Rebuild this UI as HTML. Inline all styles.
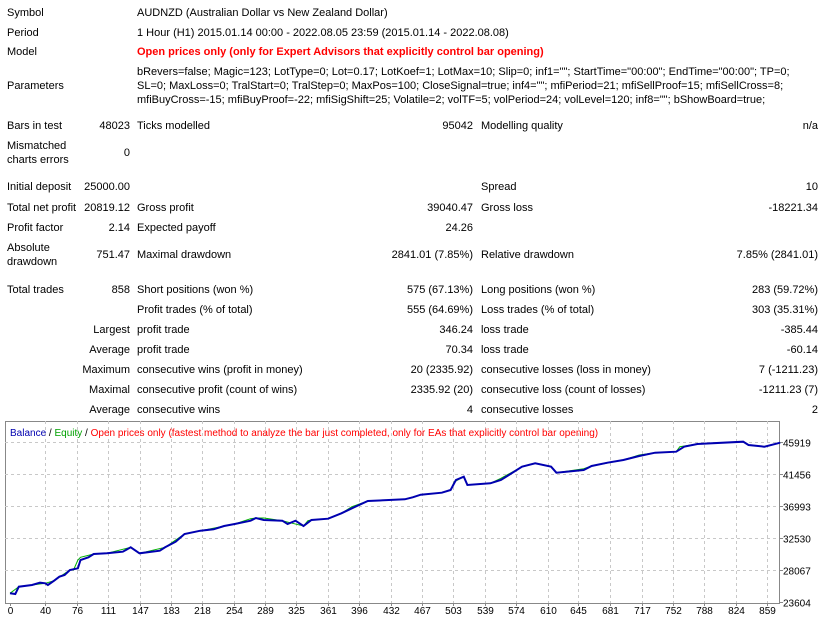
<!DOCTYPE html>
<html><head><meta charset="utf-8">
<style>
body{margin:0;background:#fff;width:834px;height:618px;position:relative;overflow:hidden;font-family:"Liberation Sans","DejaVu Sans",sans-serif;font-size:11px;color:#000}
.t{position:absolute;line-height:14px;white-space:nowrap}
.r{text-align:right}
.red{color:#f00;font-weight:bold;font-size:11px}
#chart{position:absolute;left:0;top:0}
</style></head><body>
<div class="t" style="left:7px;top:6px">Symbol</div>
<div class="t" style="left:137px;top:6px">AUDNZD (Australian Dollar vs New Zealand Dollar)</div>
<div class="t" style="left:7px;top:26px">Period</div>
<div class="t" style="left:137px;top:26px">1 Hour (H1) 2015.01.14 00:00 - 2022.08.05 23:59 (2015.01.14 - 2022.08.08)</div>
<div class="t" style="left:7px;top:45px">Model</div>
<div class="t red" style="left:137px;top:45px">Open prices only (only for Expert Advisors that explicitly control bar opening)</div>
<div class="t" style="left:7px;top:79px">Parameters</div>
<div class="t" style="left:137px;top:65px">bRevers=false; Magic=123; LotType=0; Lot=0.17; LotKoef=1; LotMax=10; Slip=0; inf1=""; StartTime="00:00"; EndTime="00:00"; TP=0;</div>
<div class="t" style="left:137px;top:79px">SL=0; MaxLoss=0; TralStart=0; TralStep=0; MaxPos=100; CloseSignal=true; inf4=""; mfiPeriod=21; mfiSellProof=15; mfiSellCross=8;</div>
<div class="t" style="left:137px;top:93px">mfiBuyCross=-15; mfiBuyProof=-22; mfiSigShift=25; Volatile=2; volTF=5; volPeriod=24; volLevel=120; inf8=""; bShowBoard=true;</div>

<div class="t" style="left:7px;top:119px">Bars in test</div>
<div class="t r" style="right:704px;top:119px">48023</div>
<div class="t" style="left:137px;top:119px">Ticks modelled</div>
<div class="t r" style="right:361px;top:119px">95042</div>
<div class="t" style="left:481px;top:119px">Modelling quality</div>
<div class="t r" style="right:16px;top:119px">n/a</div>

<div class="t" style="left:7px;top:139px">Mismatched<br>charts errors</div>
<div class="t r" style="right:704px;top:146px">0</div>

<div class="t" style="left:7px;top:180px">Initial deposit</div>
<div class="t r" style="right:704px;top:180px">25000.00</div>
<div class="t" style="left:481px;top:180px">Spread</div>
<div class="t r" style="right:16px;top:180px">10</div>

<div class="t" style="left:7px;top:201px">Total net profit</div>
<div class="t r" style="right:704px;top:201px">20819.12</div>
<div class="t" style="left:137px;top:201px">Gross profit</div>
<div class="t r" style="right:361px;top:201px">39040.47</div>
<div class="t" style="left:481px;top:201px">Gross loss</div>
<div class="t r" style="right:16px;top:201px">-18221.34</div>

<div class="t" style="left:7px;top:221px">Profit factor</div>
<div class="t r" style="right:704px;top:221px">2.14</div>
<div class="t" style="left:137px;top:221px">Expected payoff</div>
<div class="t r" style="right:361px;top:221px">24.26</div>

<div class="t" style="left:7px;top:241px">Absolute<br>drawdown</div>
<div class="t r" style="right:704px;top:248px">751.47</div>
<div class="t" style="left:137px;top:248px">Maximal drawdown</div>
<div class="t r" style="right:361px;top:248px">2841.01 (7.85%)</div>
<div class="t" style="left:481px;top:248px">Relative drawdown</div>
<div class="t r" style="right:16px;top:248px">7.85% (2841.01)</div>

<div class="t" style="left:7px;top:283px">Total trades</div>
<div class="t r" style="right:704px;top:283px">858</div>
<div class="t" style="left:137px;top:283px">Short positions (won %)</div>
<div class="t r" style="right:361px;top:283px">575 (67.13%)</div>
<div class="t" style="left:481px;top:283px">Long positions (won %)</div>
<div class="t r" style="right:16px;top:283px">283 (59.72%)</div>

<div class="t" style="left:137px;top:303px">Profit trades (% of total)</div>
<div class="t r" style="right:361px;top:303px">555 (64.69%)</div>
<div class="t" style="left:481px;top:303px">Loss trades (% of total)</div>
<div class="t r" style="right:16px;top:303px">303 (35.31%)</div>

<div class="t r" style="right:704px;top:323px">Largest</div>
<div class="t" style="left:137px;top:323px">profit trade</div>
<div class="t r" style="right:361px;top:323px">346.24</div>
<div class="t" style="left:481px;top:323px">loss trade</div>
<div class="t r" style="right:16px;top:323px">-385.44</div>

<div class="t r" style="right:704px;top:343px">Average</div>
<div class="t" style="left:137px;top:343px">profit trade</div>
<div class="t r" style="right:361px;top:343px">70.34</div>
<div class="t" style="left:481px;top:343px">loss trade</div>
<div class="t r" style="right:16px;top:343px">-60.14</div>

<div class="t r" style="right:704px;top:363px">Maximum</div>
<div class="t" style="left:137px;top:363px">consecutive wins (profit in money)</div>
<div class="t r" style="right:361px;top:363px">20 (2335.92)</div>
<div class="t" style="left:481px;top:363px">consecutive losses (loss in money)</div>
<div class="t r" style="right:16px;top:363px">7 (-1211.23)</div>

<div class="t r" style="right:704px;top:383px">Maximal</div>
<div class="t" style="left:137px;top:383px">consecutive profit (count of wins)</div>
<div class="t r" style="right:361px;top:383px">2335.92 (20)</div>
<div class="t" style="left:481px;top:383px">consecutive loss (count of losses)</div>
<div class="t r" style="right:16px;top:383px">-1211.23 (7)</div>

<div class="t r" style="right:704px;top:403px">Average</div>
<div class="t" style="left:137px;top:403px">consecutive wins</div>
<div class="t r" style="right:361px;top:403px">4</div>
<div class="t" style="left:481px;top:403px">consecutive losses</div>
<div class="t r" style="right:16px;top:403px">2</div>

<svg id="chart" width="834" height="618"></svg>
<script>
const xTicks=[0,40,76,111,147,183,218,254,289,325,361,396,432,467,503,539,574,610,645,681,717,752,788,824,859];
const yTicks=[23604,28067,32530,36993,41456,45919];
const balTrades=[0,6,10,25,34,40,43,50,56,62,68,77,80,89,95,110,128,137,147,170,176,188,198,216,231,243,255,273,279,288,309,315,324,333,342,361,376,388,406,448,457,466,490,500,506,515,519,545,557,581,596,614,620,651,660,678,696,714,732,756,765,780,832,838,856,874];
const balValues=[24813,24720,25743,25975,26300,26207,25975,26580,27137,27370,28067,28300,29462,29834,30299,30392,30624,31228,30392,30764,31228,32019,33088,33553,33739,34204,34483,34947,35319,35040,34947,34483,34947,34204,35040,35226,35970,36667,37690,37922,38201,38573,38852,39224,40619,41084,39922,40154,40619,42479,42944,42479,41642,42014,42572,43037,43409,43967,44432,44572,45269,45641,45966,45501,45269,45827];
const eqTrades=[0,10,25,40,50,68,72,77,80,95,110,137,147,176,198,255,273,279,288,309,320,333,338,342,361,376,388,406,448,466,490,500,504,515,519,545,557,581,596,614,620,651,660,696,714,732,756,760,780,832,838,856,874];
const eqValues=[24813,25743,25975,26207,26580,28067,28067,29462,29834,30299,30392,31228,30392,31228,33088,34483,35226,35319,35319,34947,34600,34204,34947,35040,35226,35970,36900,37690,37922,38573,38852,39224,40350,41084,39922,40154,40850,42479,42944,42479,41642,42200,42572,43409,44100,44432,44572,45269,45641,45966,45501,45269,45827];
const NS='http://www.w3.org/2000/svg';
const svg=document.getElementById('chart');
const L=5,R=779,T=421,B=603;
const X0=10,X1=767, Y0=602, Y1=442;
function xs(t){return X0+(t-xTicks[0])*(X1-X0)/(xTicks[xTicks.length-1]-xTicks[0]);}
function ys(v){return Y0-(v-yTicks[0])*(Y0-Y1)/(yTicks[yTicks.length-1]-yTicks[0]);}
function mk(tag,a){const e=document.createElementNS(NS,tag);for(const k in a)e.setAttribute(k,a[k]);svg.appendChild(e);return e;}
const frame=mk('rect',{x:L+0.5,y:T+0.5,width:R-L,height:B-T,fill:'#fff',stroke:'#888'});


yTicks.forEach((v,i)=>{
  const y=Math.round(ys(v))+0.5;
  if(i>0){const g=mk('line',{x1:L,x2:R,y1:y,y2:y,stroke:'#c8c8c8','stroke-dasharray':'3,3'});
  
  }
  const tk=mk('line',{x1:R,x2:R+4,y1:y,y2:y,stroke:'#888'});
  
  
  const t=mk('text',{x:783,y:y+4,'font-size':'10','font-family':'Liberation Sans, sans-serif',fill:'#000'});
  t.textContent=v;
  
  
});
xTicks.forEach(v=>{
  const x=Math.round(xs(v))+0.5;
  if(v>0){const g=mk('line',{x1:x,x2:x,y1:T,y2:B,stroke:'#c8c8c8','stroke-dasharray':'3,3'});
  
  }
  const tk=mk('line',{x1:x,x2:x,y1:B,y2:B+3,stroke:'#888'});
  
  
  const t=mk('text',{x:x,y:614,'font-size':'10','font-family':'Liberation Sans, sans-serif','text-anchor':'middle',fill:'#000'});
  t.textContent=v;
  
  
});
function path(tr,vals){let d='';for(let i=0;i<tr.length;i++){const x=xs(tr[i]),y=ys(vals[i]);d+=(i?'L':'M')+x.toFixed(1)+' '+y.toFixed(1);}return d;}
const eq=mk('path',{d:path(eqTrades,eqValues),fill:'none',stroke:'#00b000','stroke-width':1});


const bal=mk('path',{d:path(balTrades,balValues),fill:'none',stroke:'#0000b0','stroke-width':2});


const lg=mk('text',{x:10,y:436,'font-size':'10','font-family':'Liberation Sans, sans-serif'});


lg.innerHTML='<tspan fill="#0000b0">Balance</tspan><tspan fill="#000"> / </tspan><tspan fill="#00a000">Equity</tspan><tspan fill="#000"> / </tspan><tspan fill="#f00">Open prices only (fastest method to analyze the bar just completed, only for EAs that explicitly control bar opening)</tspan>';
</script>
</body></html>
